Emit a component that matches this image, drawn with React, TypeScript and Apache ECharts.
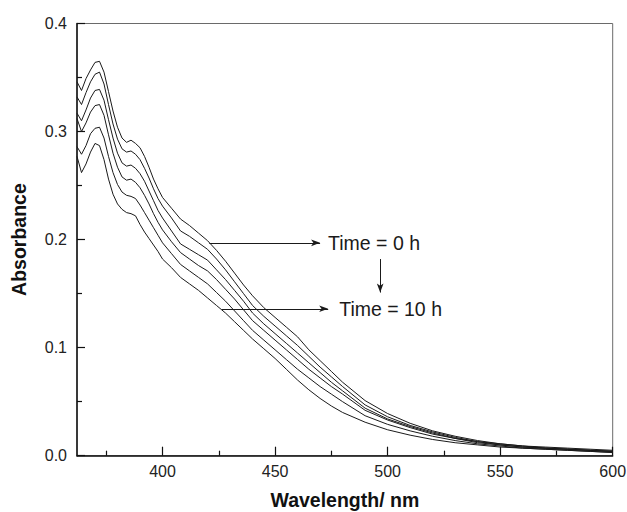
import React, { useEffect, useRef } from "react";
import * as echarts from "echarts";

// Wavelength grid (nm)
const wavelengths = [
  362, 364, 366, 368, 370, 372, 374, 376, 378, 380, 382, 384, 386, 388, 390, 392, 394, 396, 398, 400,
  404, 408, 412, 416, 420, 424, 428, 432, 436, 440, 445, 450, 455, 460, 465, 470, 475, 480,
  490, 500, 510, 520, 530, 540, 550, 560, 570, 580, 590, 600,
];

// Absorbance spectra, top (Time = 0 h) to bottom (Time = 10 h)
const abs1 = [
  0.346, 0.338, 0.349, 0.357, 0.364, 0.365, 0.355, 0.337, 0.319, 0.304, 0.294, 0.290, 0.292, 0.289, 0.285, 0.277, 0.267, 0.256, 0.247, 0.239,
  0.229, 0.219, 0.213, 0.206, 0.199, 0.190, 0.180, 0.169, 0.158, 0.148, 0.137, 0.128, 0.119, 0.110, 0.098, 0.088, 0.078, 0.068,
  0.051, 0.039, 0.030, 0.023, 0.018, 0.014, 0.011, 0.009, 0.008, 0.007, 0.006, 0.005,
];
const abs2 = [
  0.332, 0.325, 0.336, 0.346, 0.353, 0.355, 0.344, 0.325, 0.307, 0.293, 0.284, 0.281, 0.282, 0.279, 0.274, 0.266, 0.257, 0.247, 0.238, 0.231,
  0.220, 0.208, 0.203, 0.197, 0.191, 0.182, 0.172, 0.161, 0.150, 0.139, 0.129, 0.120, 0.111, 0.102, 0.092, 0.082, 0.073, 0.064,
  0.047, 0.036, 0.028, 0.022, 0.017, 0.013, 0.011, 0.009, 0.007, 0.006, 0.005, 0.004,
];
const abs3 = [
  0.317, 0.310, 0.320, 0.331, 0.338, 0.339, 0.329, 0.311, 0.294, 0.280, 0.271, 0.268, 0.269, 0.266, 0.261, 0.254, 0.245, 0.236, 0.227, 0.220,
  0.208, 0.196, 0.191, 0.186, 0.181, 0.172, 0.163, 0.153, 0.143, 0.132, 0.122, 0.113, 0.104, 0.095, 0.086, 0.077, 0.068, 0.060,
  0.044, 0.034, 0.027, 0.021, 0.016, 0.013, 0.010, 0.008, 0.007, 0.006, 0.005, 0.004,
];
const abs4 = [
  0.312, 0.300, 0.308, 0.318, 0.324, 0.325, 0.315, 0.297, 0.280, 0.267, 0.258, 0.255, 0.256, 0.253, 0.248, 0.241, 0.233, 0.224, 0.216, 0.209,
  0.198, 0.188, 0.182, 0.176, 0.171, 0.163, 0.154, 0.145, 0.135, 0.125, 0.116, 0.107, 0.098, 0.089, 0.080, 0.072, 0.064, 0.057,
  0.042, 0.033, 0.026, 0.020, 0.016, 0.012, 0.010, 0.008, 0.007, 0.006, 0.005, 0.004,
];
const abs5 = [
  0.286, 0.279, 0.287, 0.298, 0.303, 0.304, 0.294, 0.277, 0.262, 0.251, 0.244, 0.241, 0.240, 0.238, 0.232, 0.225, 0.218, 0.211, 0.204, 0.197,
  0.187, 0.177, 0.171, 0.165, 0.159, 0.151, 0.143, 0.134, 0.125, 0.116, 0.107, 0.098, 0.089, 0.080, 0.072, 0.064, 0.057, 0.050,
  0.037, 0.029, 0.023, 0.018, 0.014, 0.011, 0.009, 0.007, 0.006, 0.005, 0.004, 0.003,
];
const abs6 = [
  0.277, 0.262, 0.270, 0.281, 0.289, 0.287, 0.274, 0.256, 0.242, 0.233, 0.228, 0.225, 0.224, 0.222, 0.214, 0.207, 0.201, 0.195, 0.189, 0.182,
  0.174, 0.165, 0.159, 0.153, 0.146, 0.139, 0.132, 0.124, 0.116, 0.108, 0.099, 0.090, 0.080, 0.070, 0.061, 0.053, 0.046, 0.040,
  0.031, 0.024, 0.019, 0.015, 0.012, 0.010, 0.008, 0.007, 0.006, 0.005, 0.004, 0.003,
];
const spectra = [abs1, abs2, abs3, abs4, abs5, abs6];

// Axis ticks
const xMajorTicks = [400, 450, 500, 550, 600];
const xMinorTicks = [375, 425, 475, 525, 575];

// Annotations: [x0, y0, x1, y1, label]
const arrowTop = [420.8, 0.197, 470.0, 0.197, "Time = 0 h"];
const arrowBottom = [426.4, 0.136, 473.6, 0.136, "Time = 10 h"];
const arrowDown = [496.7, 0.182, 496.7, 0.151, ""];

const FONT = "'Liberation Sans', Arial, Helvetica, sans-serif";

export default function App() {
  const ref = useRef<HTMLDivElement>(null);

  useEffect(() => {
    const chart = echarts.init(ref.current!, null, { renderer: "svg" });
    const arrowItem = (a: any[], dist: number) => [
      {
        coord: [a[0], a[1]],
        name: a[4],
        label: { show: a[4] !== "", distance: dist },
      },
      { coord: [a[2], a[3]] },
    ];

    const series: any[] = spectra.map((vals, k) => ({
      type: "line",
      xAxisIndex: 0,
      yAxisIndex: 0,
      showSymbol: false,
      symbol: "none",
      silent: true,
      lineStyle: { color: "#1a1a1a", width: 1 },
      data: wavelengths.map((w, i) => [w, vals[i]]),
      z: 3,
      ...(k === 0
        ? {
            markLine: {
              silent: true,
              symbol: ["none", "arrow"],
              symbolSize: [5, 9],
              lineStyle: { color: "#1a1a1a", width: 1, type: "solid" },
              label: {
                show: true,
                position: "end",
                formatter: "{b}",
                fontSize: 19.5,
                color: "#1a1a1a",
                fontFamily: FONT,
              },
              emphasis: { disabled: true },
              data: [arrowItem(arrowTop, 8), arrowItem(arrowBottom, 11), arrowItem(arrowDown, 0)],
            },
          }
        : {}),
    }));

    chart.setOption({
      animation: false,
      backgroundColor: "#fff",
      grid: {
        left: 77,
        top: 23.5,
        right: 14.3,
        bottom: 56.3,
        show: true,
        borderColor: "#6a6a6a",
        borderWidth: 1,
        containLabel: false,
        outerBoundsMode: "none",
      },
      xAxis: [
        {
          type: "value",
          min: 362,
          max: 600,
          position: "bottom",
          axisLine: { show: true, onZero: false, lineStyle: { color: "#111", width: 1.5 } },
          axisTick: {
            show: true,
            inside: true,
            length: 9,
            customValues: xMajorTicks,
            lineStyle: { color: "#111", width: 1.2 },
          },
          axisLabel: {
            customValues: xMajorTicks,
            fontSize: 16,
            color: "#222",
            margin: 8,
            fontFamily: FONT,
          },
          splitLine: { show: false },
          name: "Wavelength/ nm",
          nameLocation: "middle",
          nameGap: 34,
          nameTextStyle: { fontSize: 19.5, fontWeight: "bold", color: "#111", fontFamily: FONT },
        },
        {
          type: "value",
          min: 362,
          max: 600,
          position: "bottom",
          axisLine: { show: false, onZero: false },
          axisTick: {
            show: true,
            inside: true,
            length: 5,
            customValues: xMinorTicks,
            lineStyle: { color: "#111", width: 1.2 },
          },
          axisLabel: { show: false },
          splitLine: { show: false },
        },
      ],
      yAxis: {
        type: "value",
        min: 0,
        max: 0.4,
        interval: 0.1,
        axisLine: { show: true, onZero: false, lineStyle: { color: "#111", width: 1.5 } },
        axisTick: { show: true, inside: true, length: 8, lineStyle: { color: "#111", width: 1.2 } },
        minorTick: { show: true, splitNumber: 2, length: 5, lineStyle: { color: "#111", width: 1.2 } },
        splitLine: { show: false },
        minorSplitLine: { show: false },
        axisLabel: {
          formatter: (v: number) => v.toFixed(1),
          fontSize: 16,
          color: "#222",
          margin: 10,
          fontFamily: FONT,
        },
        name: "Absorbance",
        nameLocation: "middle",
        nameGap: 48,
        nameTextStyle: { fontSize: 19.5, fontWeight: "bold", color: "#111", fontFamily: FONT },
      },
      series,
    });

    return () => chart.dispose();
  }, []);

  return (
    <div
      ref={ref}
      style={{ position: "absolute", left: 0, top: 0, width: 627, height: 512, background: "#fff" }}
    />
  );
}
